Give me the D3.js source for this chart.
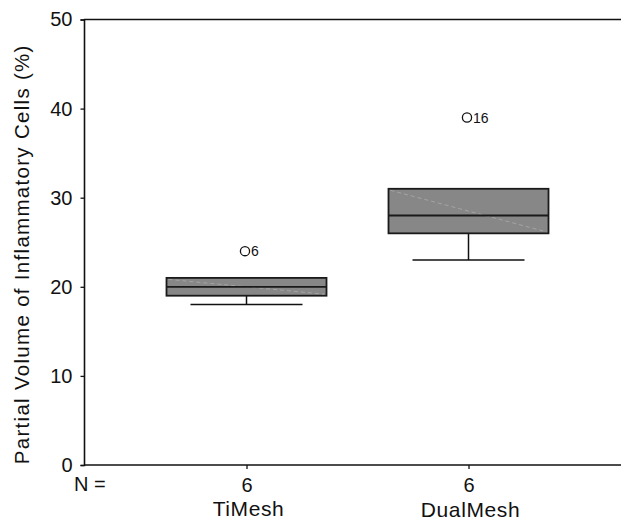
<!DOCTYPE html>
<html>
<head>
<meta charset="utf-8">
<script src="https://cdn.jsdelivr.net/npm/d3@7"></script>
<style>
  html, body { margin: 0; padding: 0; background: #fff; }
  svg { display: block; }
  text { font-family: "Liberation Sans", Arial, Helvetica, sans-serif; fill: #111; }
</style>
</head>
<body>
<div id="chart"></div>
<script>
// ---- data ----
const categories = ["TiMesh", "DualMesh"];
const nValues = [6, 6];
const whiskerLow = [18, 23];
const q1 = [19, 26];
const median = [20, 28];
const q3 = [21, 31];
const whiskerHigh = [21, 31];
const outlierValues = [24, 39];
const outlierLabels = ["6", "16"];
const yTicks = [0, 10, 20, 30, 40, 50];

// ---- layout ----
const W = 621, H = 521;
const margin = { top: 19.5, right: 0, bottom: 56, left: 84 };

const svg = d3.select("#chart").append("svg")
  .attr("width", W).attr("height", H);

const y = d3.scaleLinear().domain([0, 50]).range([H - margin.bottom, margin.top]);
const x = d3.scalePoint().domain(categories).range([246.5, 468.5]);

const boxHalf = 80, whiskHalf = 56;

// frame lines (top and bottom run to the right edge)
svg.append("line")
  .attr("x1", margin.left).attr("x2", W)
  .attr("y1", y(50)).attr("y2", y(50))
  .attr("stroke", "#111").attr("stroke-width", 1.6);
svg.append("line")
  .attr("x1", margin.left).attr("x2", W)
  .attr("y1", y(0)).attr("y2", y(0))
  .attr("stroke", "#111").attr("stroke-width", 1.6);

// y axis
const yAxis = svg.append("g")
  .attr("transform", `translate(${margin.left},0)`)
  .call(d3.axisLeft(y).tickValues(yTicks).tickSize(3.5).tickPadding(8).tickFormat(d3.format("d")));
yAxis.select(".domain").attr("stroke", "#111").attr("stroke-width", 1.6);
yAxis.selectAll(".tick line").attr("stroke", "#111").attr("stroke-width", 1.3);
yAxis.selectAll(".tick text").attr("font-size", 20).attr("fill", "#111")
  .style("font-family", "'Liberation Sans', Arial, sans-serif");

// x axis (ticks with N labels)
const xAxis = svg.append("g")
  .attr("transform", `translate(0,${y(0)})`)
  .call(d3.axisBottom(x).tickSize(4).tickPadding(3).tickFormat((d, i) => nValues[i]));
xAxis.select(".domain").remove();
xAxis.selectAll(".tick line").attr("stroke", "#111").attr("stroke-width", 1.3);
xAxis.selectAll(".tick text").attr("font-size", 20).attr("fill", "#111")
  .attr("dy", null).attr("y", 27)
  .style("font-family", "'Liberation Sans', Arial, sans-serif");

svg.append("text")
  .attr("x", 74).attr("y", 491)
  .attr("font-size", 20)
  .text("N =");

// category labels
const catBaselines = [515.5, 516.5];
svg.selectAll("text.cat").data(categories).join("text")
  .attr("class", "cat")
  .attr("x", d => x(d) + 2)
  .attr("y", (d, i) => catBaselines[i])
  .attr("text-anchor", "middle")
  .attr("font-size", 21)
  .attr("letter-spacing", 0.6)
  .text(d => d);

// y title
svg.append("text")
  .attr("transform", `translate(29,${(y(0) + y(50)) / 2 + 12}) rotate(-90)`)
  .attr("text-anchor", "middle")
  .attr("font-size", 20.5)
  .attr("letter-spacing", 1.3)
  .text("Partial Volume of Inflammatory Cells (%)");

// boxes
const g = svg.append("g");
categories.forEach((c, i) => {
  const cx = x(c);
  g.append("line")
    .attr("x1", cx).attr("x2", cx)
    .attr("y1", y(q1[i])).attr("y2", y(whiskerLow[i]))
    .attr("stroke", "#111").attr("stroke-width", 1.5);
  g.append("line")
    .attr("x1", cx - whiskHalf).attr("x2", cx + whiskHalf)
    .attr("y1", y(whiskerLow[i])).attr("y2", y(whiskerLow[i]))
    .attr("stroke", "#111").attr("stroke-width", 1.5);
  if (whiskerHigh[i] > q3[i]) {
    g.append("line")
      .attr("x1", cx).attr("x2", cx)
      .attr("y1", y(q3[i])).attr("y2", y(whiskerHigh[i]))
      .attr("stroke", "#111").attr("stroke-width", 1.5);
    g.append("line")
      .attr("x1", cx - whiskHalf).attr("x2", cx + whiskHalf)
      .attr("y1", y(whiskerHigh[i])).attr("y2", y(whiskerHigh[i]))
      .attr("stroke", "#111").attr("stroke-width", 1.5);
  }
  g.append("rect")
    .attr("x", cx - boxHalf).attr("width", boxHalf * 2)
    .attr("y", y(q3[i])).attr("height", y(q1[i]) - y(q3[i]))
    .attr("fill", "#878787").attr("stroke", "#1a1a1a").attr("stroke-width", 1.8);
  g.append("line")
    .attr("x1", cx - boxHalf + 2).attr("x2", cx + boxHalf - 2)
    .attr("y1", y(q3[i]) + 1.5).attr("y2", y(q1[i]) - 1.5)
    .attr("stroke", "#ababab").attr("stroke-width", 0.8)
    .attr("stroke-dasharray", "4,3");
  g.append("line")
    .attr("x1", cx - boxHalf).attr("x2", cx + boxHalf)
    .attr("y1", y(median[i])).attr("y2", y(median[i]))
    .attr("stroke", "#1a1a1a").attr("stroke-width", 1.8);
  g.append("circle")
    .attr("cx", cx - 1.5).attr("cy", y(outlierValues[i]))
    .attr("r", 4.6)
    .attr("fill", "none").attr("stroke", "#111").attr("stroke-width", 1.3);
  g.append("text")
    .attr("x", cx + 4.5).attr("y", y(outlierValues[i]) + 5)
    .attr("font-size", 14)
    .text(outlierLabels[i]);
});
</script>
</body>
</html>
